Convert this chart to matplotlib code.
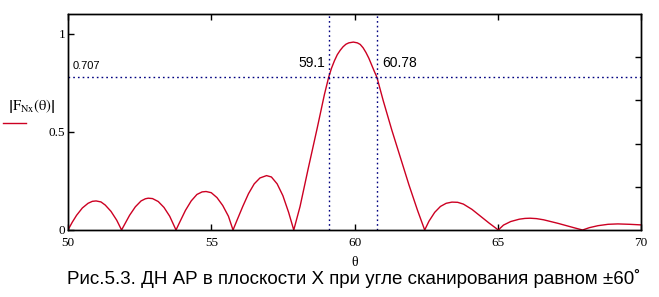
import matplotlib
matplotlib.use("Agg")
import matplotlib.pyplot as plt
import numpy as np

# angle (deg) and |F_Nx|
theta = [50.0, 50.15, 50.3, 50.5, 50.7, 50.85, 50.98, 51.15, 51.3, 51.5, 51.7, 51.87,
         52.0, 52.15, 52.35, 52.55, 52.7, 52.8, 52.95, 53.15, 53.35, 53.55, 53.77,
         53.9, 54.1, 54.3, 54.5, 54.68, 54.82, 55.0, 55.2, 55.4, 55.6, 55.76,
         55.9, 56.1, 56.3, 56.5, 56.7, 56.93, 57.1, 57.3, 57.5, 57.7, 57.88,
         58.1, 58.38, 58.7, 58.95, 59.1, 59.2, 59.3, 59.4, 59.5, 59.6, 59.7, 59.8, 59.96,
         60.1, 60.2, 60.3, 60.4, 60.5, 60.6, 60.7, 60.78, 61.0, 61.3, 61.6, 61.9, 62.2, 62.45,
         62.6, 62.8, 63.0, 63.2, 63.4, 63.6, 63.8, 64.1, 64.4, 64.7, 65.02,
         65.2, 65.45, 65.75, 65.95, 66.13, 66.35, 66.6, 66.85, 67.1, 67.4, 67.7, 67.96,
         68.2, 68.5, 68.85, 69.19, 69.6, 70.0]
F = [0.0, 0.04, 0.075, 0.112, 0.136, 0.146, 0.148, 0.143, 0.127, 0.095, 0.05, 0.0,
     0.035, 0.075, 0.118, 0.148, 0.159, 0.162, 0.16, 0.145, 0.115, 0.07, 0.0,
     0.04, 0.1, 0.148, 0.181, 0.194, 0.196, 0.19, 0.165, 0.125, 0.07, 0.0,
     0.05, 0.12, 0.185, 0.235, 0.265, 0.277, 0.27, 0.235, 0.175, 0.09, 0.0,
     0.12, 0.31, 0.52, 0.69, 0.779, 0.825, 0.862, 0.893, 0.915, 0.933, 0.946, 0.953, 0.957,
     0.953, 0.945, 0.928, 0.904, 0.875, 0.84, 0.805, 0.779, 0.66, 0.51, 0.37, 0.23, 0.1, 0.0,
     0.045, 0.09, 0.12, 0.136, 0.142, 0.141, 0.132, 0.105, 0.07, 0.035, 0.0,
     0.025, 0.043, 0.055, 0.059, 0.06, 0.058, 0.052, 0.043, 0.034, 0.022, 0.01, 0.0,
     0.012, 0.022, 0.029, 0.031, 0.029, 0.026]

# -3 dB markers
level = 0.778
level_label = "0.707"
left_edge = 59.1
right_edge = 60.78

x_ticks = [50, 55, 60, 65, 70]
y_ticks = [0, 0.5, 1]
y_tick_labels = ["0", "0.5", "1"]
right_ticks = [0.22, 0.44, 0.66, 0.88]

plt.rcParams['mathtext.fontset'] = 'stix'

fig = plt.figure(figsize=(6.59, 2.97), dpi=100)
ax = fig.add_axes([68/659, 67/297, 573/659, 216/297])

ax.plot(theta, F, color="#cc0022", linewidth=1.0)

dot = (0, (1.2, 2.2))
ax.axhline(level, color="#000080", linewidth=1.0, linestyle=dot)
ax.axvline(left_edge, color="#000080", linewidth=1.0, linestyle=dot)
ax.axvline(right_edge, color="#000080", linewidth=1.0, linestyle=dot)

ax.text(50.15, level + 0.03, level_label, fontsize=8, family="Liberation Sans",
        ha="left", va="bottom")
ax.text(left_edge - 0.12, 0.83, str(left_edge), fontsize=10, family="Liberation Sans",
        ha="right", va="baseline")
ax.text(right_edge + 0.2, 0.83, str(right_edge), fontsize=10, family="Liberation Sans",
        ha="left", va="baseline")

ax.set_xlim(50, 70)
ax.set_ylim(0, 1.1)
ax.set_xticks(x_ticks)
ax.set_xticklabels([str(v) for v in x_ticks], family="Liberation Serif", fontsize=9.5)
ax.set_yticks(y_ticks)
ax.set_yticklabels(y_tick_labels, family="Liberation Serif", fontsize=9.5)
ax.tick_params(direction="in", length=4, width=1, top=True)
ax.tick_params(axis="x", pad=5)
ax.tick_params(axis="y", pad=2)

ax2 = ax.twinx()
ax2.set_ylim(0, 1.1)
ax2.set_yticks(right_ticks)
ax2.set_yticklabels([])
ax2.tick_params(direction="in", length=4, width=1)

for a in (ax, ax2):
    for s in a.spines.values():
        s.set_linewidth(1.0)

ax.set_xlabel("θ", fontsize=10, family="Liberation Serif", labelpad=5)

# y label with the legend stroke under it
fig.text(32/659, 1 - 106/297, r"$\left|\mathrm{F}_{\mathrm{Nx}}\mathrm{(θ)}\right|$",
         fontsize=10.5, ha="center", va="center")
fig.add_artist(plt.Line2D([3/659, 26/659], [1 - 123/297, 1 - 123/297],
                          color="#cc0022", linewidth=1.0))

fig.text(354/659, 1 - 279/297,
         "Рис.5.3. ДН АР в плоскости X при угле сканирования равном ±60˚",
         fontsize=13.5, family="Liberation Sans", ha="center", va="center")

fig.savefig("out.png", dpi=100)
